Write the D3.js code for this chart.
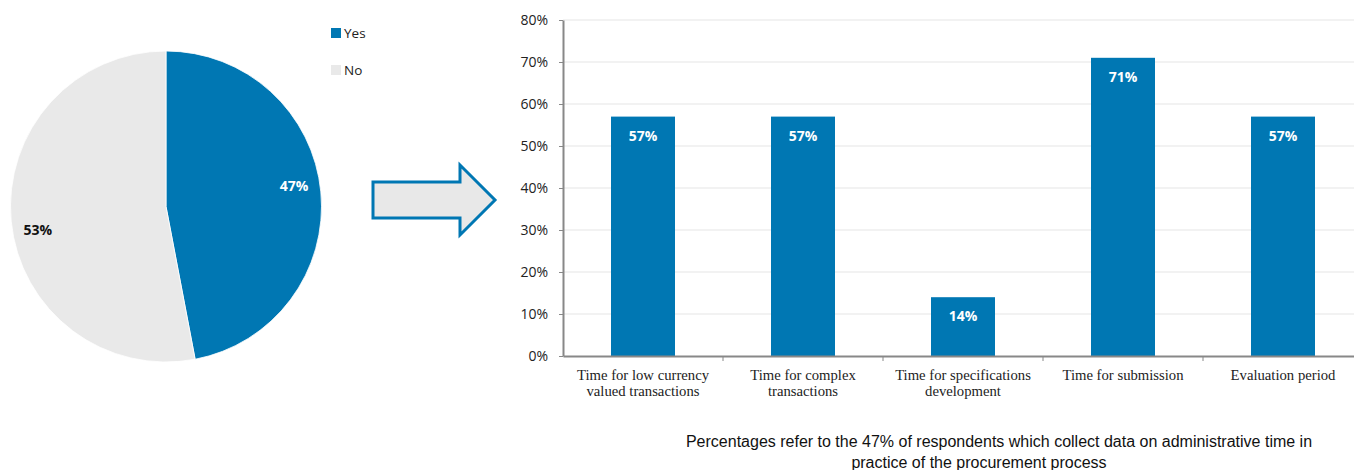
<!DOCTYPE html>
<html>
<head>
<meta charset="utf-8">
<script src="https://cdn.jsdelivr.net/npm/d3@7"></script>
<style>
  html, body { margin: 0; padding: 0; background: #fff; }
  svg { display: block; }
</style>
</head>
<body>
<svg id="chart" width="1354" height="470"></svg>
<script>
// Share of respondents that collect data on administrative time
const pieLabels = ["Yes", "No"];
const pieValues = [47, 53];

// Breakdown among those respondents
const categories = [
  ["Time for low currency", "valued transactions"],
  ["Time for complex", "transactions"],
  ["Time for specifications", "development"],
  ["Time for submission"],
  ["Evaluation period"]
];
const barValues = [57, 57, 14, 71, 57];
const yTicks = [0, 10, 20, 30, 40, 50, 60, 70, 80];

const noteLines = [
  "Percentages refer to the 47% of respondents which collect data on administrative time in",
  "practice of the procurement process"
];

const BLUE = "#0077b3";
const GREY = "#e9e9e9";
const svg = d3.select("#chart");

// ---------- Pie ----------
const pieColor = d3.scaleOrdinal().domain(pieLabels).range([BLUE, GREY]);
const R = 155.5;
const pieG = svg.append("g").attr("transform", "translate(166,206.5)");
const pie = d3.pie().sort(null).value(d => d.v);
const arcs = pie(pieLabels.map((k, i) => ({ k, v: pieValues[i] })));
const arc = d3.arc().innerRadius(0).outerRadius(R);
pieG.selectAll("path").data(arcs).join("path")
  .attr("d", arc)
  .attr("fill", d => pieColor(d.data.k))
  .attr("stroke", "#fff").attr("stroke-width", 0.8);

const labelArc = d3.arc().innerRadius(130).outerRadius(130);
const shift = -0.075;
pieG.selectAll("text").data(arcs).join("text")
  .attr("transform", d => {
    const c = labelArc.centroid({ startAngle: d.startAngle + shift, endAngle: d.endAngle + shift });
    return `translate(${c[0]},${c[1] + 1.5})`;
  })
  .attr("text-anchor", "middle").attr("dy", "0.35em")
  .attr("font-family", "'Open Sans', sans-serif").attr("font-weight", "bold")
  .attr("font-size", 14)
  .attr("fill", d => d.data.k === "Yes" ? "#fff" : "#111")
  .text(d => d.data.v + "%");

// legend
const leg = svg.append("g").attr("transform", "translate(331,28)");
pieLabels.forEach((k, i) => {
  const g = leg.append("g").attr("transform", `translate(0,${i * 37})`);
  g.append("rect").attr("width", 10).attr("height", 10).attr("fill", pieColor(k));
  g.append("text").attr("x", 13).attr("y", 5).attr("dy", "0.36em")
    .attr("font-family", "'Open Sans', sans-serif").attr("font-size", 13.5)
    .attr("fill", "#222").text(k);
});

// ---------- Arrow ----------
const arrowPts = [[373, 182], [460, 182], [460, 165], [495, 200], [460, 235], [460, 218], [373, 218]];
svg.append("path")
  .attr("d", d3.line()(arrowPts) + "Z")
  .attr("fill", "#e8e8e8").attr("stroke", BLUE).attr("stroke-width", 3)
  .attr("stroke-linejoin", "miter");

// ---------- Bars ----------
const x = d3.scaleBand().domain(d3.range(categories.length)).range([563, 1363]).paddingInner(0.6).paddingOuter(0.3);
const xAxisScale = d3.scaleBand().domain(d3.range(categories.length)).range([563, 1363]);
const y = d3.scaleLinear().domain([0, 80]).range([356, 20]);

// gridlines
svg.append("g").selectAll("line").data(yTicks.slice(1)).join("line")
  .attr("x1", 563).attr("x2", 1363)
  .attr("y1", d => y(d)).attr("y2", d => y(d))
  .attr("stroke", "#e6e6e6").attr("stroke-width", 1.2);

svg.append("g").selectAll("rect").data(barValues).join("rect")
  .attr("x", (d, i) => x(i)).attr("width", x.bandwidth())
  .attr("y", d => y(d)).attr("height", d => y(0) - y(d))
  .attr("fill", BLUE);

svg.append("g").selectAll("text").data(barValues).join("text")
  .attr("x", (d, i) => x(i) + x.bandwidth() / 2)
  .attr("y", d => y(d) + 19).attr("dy", "0.35em")
  .attr("text-anchor", "middle")
  .attr("font-family", "'Open Sans', sans-serif").attr("font-weight", "bold")
  .attr("font-size", 14).attr("fill", "#fff")
  .text(d => d + "%");

// y axis
const yAxis = svg.append("g").attr("transform", "translate(563,0)")
  .call(d3.axisLeft(y).tickValues(yTicks).tickFormat(d => d + "%").tickSize(4).tickSizeOuter(0));
yAxis.select(".domain").attr("stroke", "#888").attr("stroke-width", 2);
yAxis.selectAll(".tick line").attr("stroke", "#888");
yAxis.selectAll(".tick text").attr("x", -15)
  .attr("font-family", "'Open Sans', sans-serif").attr("font-size", 14).attr("fill", "#222");

// x axis
const xAxis = svg.append("g").attr("transform", "translate(0,356)")
  .call(d3.axisBottom(xAxisScale).tickSize(0).tickFormat(""));
xAxis.select(".domain").attr("stroke", "#888").attr("stroke-width", 2);
xAxis.selectAll(".tick").remove();
// category separators
svg.append("g").selectAll("line").data(d3.range(1, categories.length)).join("line")
  .attr("x1", i => xAxisScale(i)).attr("x2", i => xAxisScale(i))
  .attr("y1", 356).attr("y2", 361).attr("stroke", "#888");

const catG = svg.append("g").selectAll("text").data(categories).join("text")
  .attr("text-anchor", "middle")
  .attr("font-family", "'Liberation Serif', 'Times New Roman', serif")
  .attr("font-size", 14.7).attr("fill", "#222");
catG.each(function (lines, i) {
  const t = d3.select(this);
  lines.forEach((ln, j) => {
    t.append("tspan").attr("x", xAxisScale(i) + xAxisScale.bandwidth() / 2)
      .attr("y", 380 + j * 16).text(ln);
  });
});

// ---------- Footnote ----------
svg.append("g").selectAll("text").data(noteLines).join("text")
  .attr("x", (d, i) => i === 0 ? 999 : 979).attr("y", (d, i) => 447 + i * 21)
  .attr("text-anchor", "middle")
  .attr("font-family", "'Liberation Sans', Arial, sans-serif").attr("font-size", 16)
  .attr("fill", "#111").text(d => d);
</script>
</body>
</html>
